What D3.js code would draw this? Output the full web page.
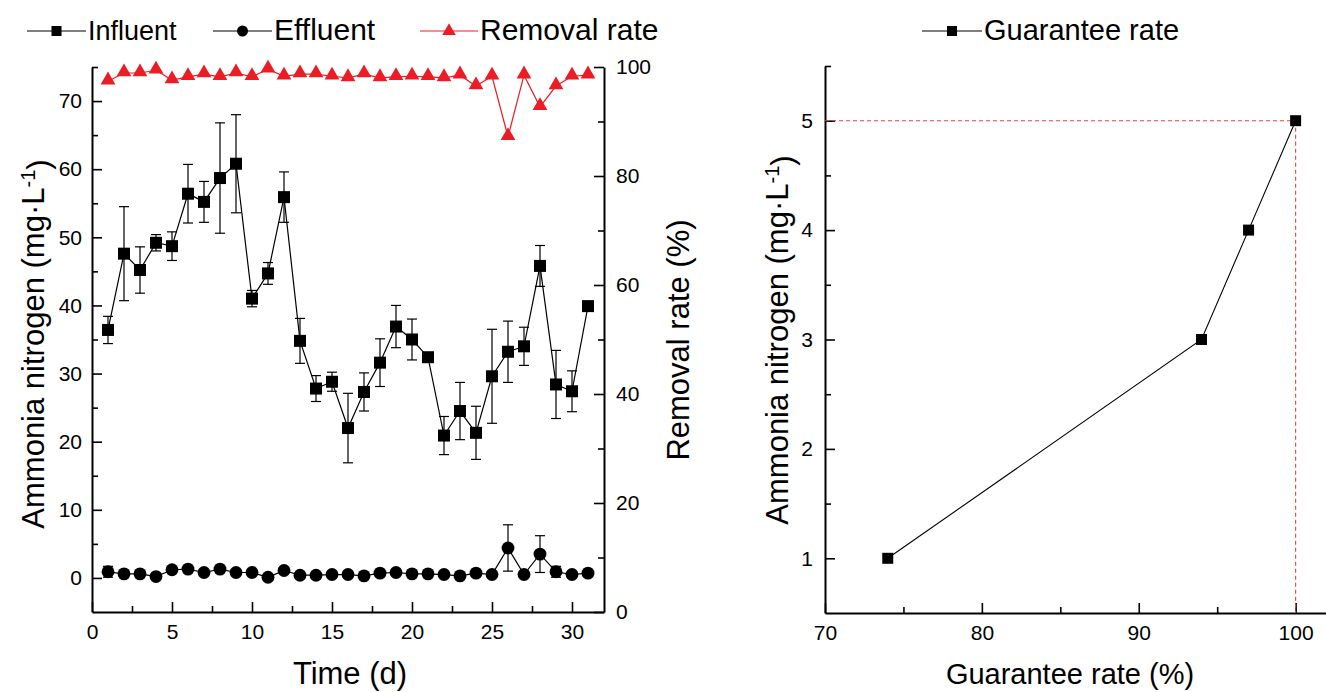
<!DOCTYPE html>
<html>
<head>
<meta charset="utf-8">
<script src="https://cdn.jsdelivr.net/npm/d3@7"></script>
<style>
  body { margin: 0; background: #fff; }
  svg { display: block; font-family: Arial, "Liberation Sans", sans-serif; }
</style>
</head>
<body>
<div id="chart"></div>
<script>
// ---- data ----
var days = [1,2,3,4,5,6,7,8,9,10,11,12,13,14,15,16,17,18,19,20,21,22,23,24,25,26,27,28,29,30,31];
var influent = [36.4,47.6,45.2,49.2,48.7,56.4,55.2,58.7,60.8,41.0,44.7,55.9,34.8,27.8,28.8,22.0,27.3,31.6,36.9,35.0,32.4,20.9,24.5,21.3,29.6,33.2,34.0,45.8,28.4,27.4,39.9];
var influentErr = [2.0,6.9,3.4,1.2,2.1,4.3,3.0,8.1,7.2,1.2,1.6,3.7,3.3,1.9,1.4,5.1,2.8,3.5,3.1,3.0,0,2.8,4.2,3.9,6.9,4.5,2.8,3.0,5.0,3.0,0];
var effluent = [0.9,0.6,0.6,0.2,1.2,1.3,0.8,1.3,0.8,0.8,0.1,1.1,0.4,0.4,0.5,0.5,0.3,0.7,0.8,0.6,0.6,0.5,0.3,0.7,0.5,4.4,0.5,3.5,0.9,0.5,0.7];
var effluentErr = [0.8,0,0,0,0,0,0,0,0,0,0,0,0,0,0,0,0,0,0,0,0,0,0,0,0,3.4,0,2.7,0.8,0,0];
var removal = [97.4,98.9,98.9,99.4,97.6,98.2,98.7,98.2,98.9,98.2,99.6,98.3,98.7,98.7,98.3,98.0,98.7,98.0,98.2,98.3,98.2,98.0,98.5,96.5,98.3,87.2,98.5,92.7,96.5,98.3,98.5];

var guarantee = [74, 94, 97, 100];
var limitNH3 = [1, 3, 4, 5];

var xTicks = [0,5,10,15,20,25,30];
var xMinor = [2.5,7.5,12.5,17.5,22.5,27.5];
var yLTicks = [0,10,20,30,40,50,60,70];
var yLMinor = [5,15,25,35,45,55,65,75];
var yRTicks = [0,20,40,60,80,100];
var yRMinor = [10,30,50,70,90];
var gxTicks = [70,80,90,100];
var gxMinor = [75,85,95];
var gyTicks = [1,2,3,4,5];
var gyMinor = [1.5,2.5,3.5,4.5,5.5];

var W = 1326, H = 692;
var RED = "#ec1c24";

var svg = d3.select("#chart").append("svg").attr("width", W).attr("height", H);

// draws an axis with inward major + minor ticks
function drawAxis(gen, pos, major, minor, pad) {
    var g = svg.append("g").attr("transform", pos);
    g.call(gen(major).tickSizeInner(-10).tickSizeOuter(0).tickPadding(pad).tickFormat(d3.format("")));
    var m = g.append("g").call(gen(minor).tickSizeInner(-6).tickSizeOuter(0).tickFormat(""));
    m.select(".domain").remove();
    g.selectAll(".domain").attr("stroke-width", 2).attr("stroke", "#000");
    g.selectAll(".tick line").attr("stroke-width", 1.6).attr("stroke", "#000");
    g.selectAll(".tick text").attr("font-size", 21).attr("fill", "#000")
        .attr("font-family", "Arial, 'Liberation Sans', sans-serif");
    return g;
}

// ================= LEFT CHART =================
var x = d3.scaleLinear().domain([0, 32]).range([92, 604]);
var yL = d3.scaleLinear().domain([-5, 75]).range([612, 67]);
var yR = d3.scaleLinear().domain([0, 100]).range([612, 67]);

drawAxis(function (v) { return d3.axisBottom(x).tickValues(v); }, "translate(0,612)", xTicks, xMinor, 12);
drawAxis(function (v) { return d3.axisLeft(yL).tickValues(v); }, "translate(92,0)", yLTicks, yLMinor, 10);
drawAxis(function (v) { return d3.axisRight(yR).tickValues(v); }, "translate(604,0)", yRTicks, yRMinor, 12);

var lineInf = d3.line().x(function (d, i) { return x(days[i]); }).y(function (d) { return yL(d); });
var lineRem = d3.line().x(function (d, i) { return x(days[i]); }).y(function (d) { return yR(d); });

// error bars
function errorBars(vals, errs, cls) {
    var eg = svg.append("g").attr("class", cls).attr("stroke", "#000").attr("stroke-width", 1.2);
    vals.forEach(function (v, i) {
        if (!errs[i]) return;
        var cx = x(days[i]), y0 = yL(v - errs[i]), y1 = yL(v + errs[i]);
        eg.append("line").attr("x1", cx).attr("x2", cx).attr("y1", y0).attr("y2", y1);
        eg.append("line").attr("x1", cx - 5).attr("x2", cx + 5).attr("y1", y0).attr("y2", y0);
        eg.append("line").attr("x1", cx - 5).attr("x2", cx + 5).attr("y1", y1).attr("y2", y1);
    });
}
errorBars(influent, influentErr, "err-inf");
errorBars(effluent, effluentErr, "err-eff");

svg.append("path").datum(influent).attr("d", lineInf).attr("fill", "none").attr("stroke", "#000").attr("stroke-width", 1.2);
svg.append("path").datum(effluent).attr("d", lineInf).attr("fill", "none").attr("stroke", "#000").attr("stroke-width", 1.2);
svg.append("path").datum(removal).attr("d", lineRem).attr("fill", "none").attr("stroke", RED).attr("stroke-width", 1.2);

var sq = d3.symbol().type(d3.symbolSquare).size(144);
var circ = d3.symbol().type(d3.symbolCircle).size(130);
var tri = d3.symbol().type(d3.symbolTriangle).size(95);

svg.append("g").selectAll("path").data(influent).enter().append("path")
    .attr("d", sq).attr("fill", "#000")
    .attr("transform", function (d, i) { return "translate(" + x(days[i]) + "," + yL(d) + ")"; });
svg.append("g").selectAll("path").data(effluent).enter().append("path")
    .attr("d", circ).attr("fill", "#000")
    .attr("transform", function (d, i) { return "translate(" + x(days[i]) + "," + yL(d) + ")"; });
svg.append("g").selectAll("path").data(removal).enter().append("path")
    .attr("d", tri).attr("fill", RED)
    .attr("transform", function (d, i) { return "translate(" + x(days[i]) + "," + (yR(d) - 1) + ")"; });

// titles
function yTitle(cx, cy, size) {
    var t = svg.append("text").attr("transform", "translate(" + cx + "," + cy + ") rotate(-90)")
        .attr("text-anchor", "middle").attr("dy", "0.35em").attr("font-size", size).attr("fill", "#000");
    t.append("tspan").text("Ammonia nitrogen (mg·L");
    t.append("tspan").attr("dy", "-0.45em").attr("font-size", size * 0.65).text("-1");
    t.append("tspan").attr("dy", "0.45em").text(")");
}
yTitle(33, 344, 31);

svg.append("text").attr("transform", "translate(678,340) rotate(-90)")
    .attr("text-anchor", "middle").attr("dy", "0.35em").attr("font-size", 31).text("Removal rate (%)");
svg.append("text").attr("x", 350).attr("y", 684).attr("text-anchor", "middle")
    .attr("font-size", 31).text("Time (d)");

// legend
function legendItem(x0, x1, sym, color, label, size) {
    var g = svg.append("g");
    g.append("line").attr("x1", x0).attr("x2", x1).attr("y1", 31).attr("y2", 31)
        .attr("stroke", color).attr("stroke-width", 1.2);
    g.append("path").attr("d", sym).attr("fill", color)
        .attr("transform", "translate(" + ((x0 + x1) / 2) + ",31)");
    g.append("text").attr("x", x1 + 2).attr("y", 40).attr("font-size", size).text(label);
}
legendItem(27, 86, d3.symbol().type(d3.symbolSquare).size(100)(), "#000", "Influent", 27);
legendItem(213, 272, d3.symbol().type(d3.symbolCircle).size(95)(), "#000", "Effluent", 30);
legendItem(420, 478, d3.symbol().type(d3.symbolTriangle).size(80)(), RED, "Removal rate", 30);

// ================= RIGHT CHART =================
var x2 = d3.scaleLinear().domain([70, 102]).range([825, 1327]);
var y2 = d3.scaleLinear().domain([0.5, 5.5]).range([613, 66]);

drawAxis(function (v) { return d3.axisBottom(x2).tickValues(v); }, "translate(0,613)", gxTicks, gxMinor, 12);
drawAxis(function (v) { return d3.axisLeft(y2).tickValues(v); }, "translate(825,0)", gyTicks, gyMinor, 12);

// dashed guide lines at the 5 mg/L / 100 % point
var lastI = guarantee.length - 1;
svg.append("line").attr("x1", x2(70)).attr("x2", x2(guarantee[lastI]))
    .attr("y1", y2(limitNH3[lastI])).attr("y2", y2(limitNH3[lastI]))
    .attr("stroke", "#e8453a").attr("stroke-width", 1.1).attr("stroke-dasharray", "4,3");
svg.append("line").attr("x1", x2(guarantee[lastI])).attr("x2", x2(guarantee[lastI]))
    .attr("y1", y2(limitNH3[lastI])).attr("y2", y2(0.5))
    .attr("stroke", "#e8453a").attr("stroke-width", 1.1).attr("stroke-dasharray", "4,3");

var lineG = d3.line().x(function (d, i) { return x2(guarantee[i]); }).y(function (d) { return y2(d); });
svg.append("path").datum(limitNH3).attr("d", lineG).attr("fill", "none").attr("stroke", "#000").attr("stroke-width", 1.1);
svg.append("g").selectAll("path").data(limitNH3).enter().append("path")
    .attr("d", d3.symbol().type(d3.symbolSquare).size(121)).attr("fill", "#000")
    .attr("transform", function (d, i) { return "translate(" + x2(guarantee[i]) + "," + y2(d) + ")"; });

yTitle(777, 340, 31);
svg.append("text").attr("x", 1070).attr("y", 684).attr("text-anchor", "middle")
    .attr("font-size", 29).text("Guarantee rate (%)");

legendItem(922, 982, d3.symbol().type(d3.symbolSquare).size(100)(), "#000", "Guarantee rate", 29);
</script>
</body>
</html>
